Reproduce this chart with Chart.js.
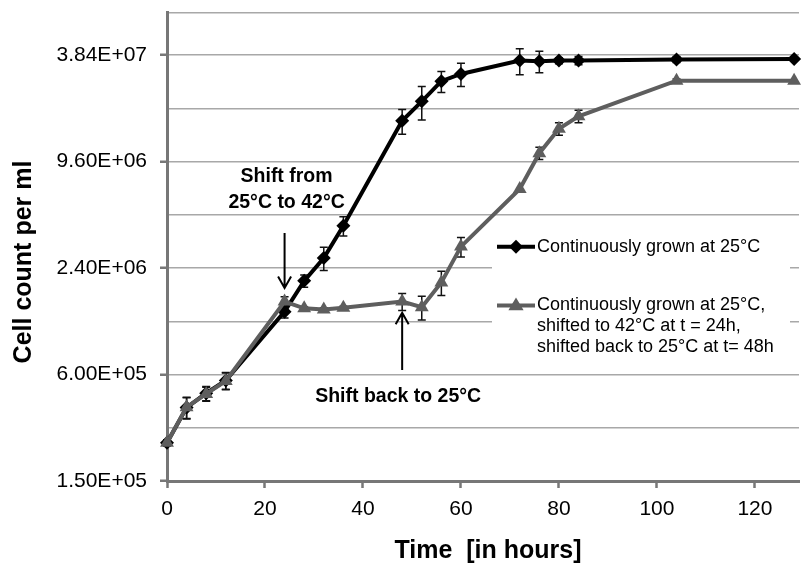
<!DOCTYPE html>
<html><head><meta charset="utf-8">
<script src="https://cdn.jsdelivr.net/npm/chart.js@4.4.1/dist/chart.umd.min.js"></script>
<style>html,body{margin:0;padding:0;background:#fff;overflow:hidden}#wrap{width:807px;height:566px;position:relative}</style>
</head><body><div id="wrap"><canvas id="c" width="807" height="566"></canvas></div>
<script>
// ---- data ----
const hours = [0, 4, 8, 12, 24, 28, 32, 36, 48, 52, 56, 60, 72, 76, 80, 84, 104, 128];
const continuous25 = [2.47e5, 3.9e5, 4.7e5, 5.55e5, 1.36e6, 2.03e6, 2.73e6, 4.16e6, 1.63e7, 2.1e7, 2.73e7, 3.0e7, 3.57e7, 3.54e7, 3.57e7, 3.57e7, 3.62e7, 3.65e7];
const continuous25Err = [1.0e4, 5.4e4, 4.3e4, 6.0e4, 1.1e5, 1.6e5, 4.1e5, 5.2e5, 2.6e6, 4.5e6, 3.7e6, 4.5e6, 6.0e6, 4.9e6, 1.4e6, 1.9e6, 1.4e6, 0];
const shifted = [2.47e5, 3.92e5, 4.66e5, 5.52e5, 1.55e6, 1.42e6, 1.40e6, 1.43e6, 1.55e6, 1.44e6, 1.99e6, 3.17e6, 6.71e6, 1.07e7, 1.47e7, 1.73e7, 2.75e7, 2.75e7];
const shiftedErr = [1.0e4, 5.4e4, 4.3e4, 6.0e4, 1.0e5, 3.0e4, 3.0e4, 3.0e4, 1.7e5, 2.2e5, 3.1e5, 4.0e5, 0, 8.5e5, 1.2e6, 1.4e6, 6.0e5, 0];
const seriesLabels = [
  ['Continuously grown at 25°C'],
  ['Continuously grown at 25°C,', 'shifted to 42°C at t = 24h,', 'shifted back to 25°C at t= 48h']
];
const yMajorTicks = [1.5e5, 6.0e5, 2.4e6, 9.6e6, 3.84e7];
const yTickLabels = ['1.50E+05', '6.00E+05', '2.40E+06', '9.60E+06', '3.84E+07'];
const yGridValues = [1.5e5, 3.0e5, 6.0e5, 1.2e6, 2.4e6, 4.8e6, 9.6e6, 1.92e7, 3.84e7];
const yMin = 1.5e5, yMax = 6.66e7;
const xTicks = [0, 20, 40, 60, 80, 100, 120];
const xMin = 0, xMax = 129;
const xTitle = 'Time  [in hours]';
const yTitle = 'Cell count per ml';
const shiftUpLabel = ['Shift from', '25°C to 42°C'];
const shiftBackLabel = 'Shift back to 25°C';
const shiftTimes = [24, 48];
const shiftDownArrow = [3.78e6, 1.85e6];
const shiftUpArrow = [6.37e5, 1.34e6];

const FONT = '"Liberation Sans", Arial, Helvetica, sans-serif';
const BLACK = '#000000', GRAY = '#5e5e5e', AXIS = '#777777', GRID = '#a8a8a8';

const errors = [continuous25Err, shiftedErr];

const errorBarPlugin = {
  id: 'errbars',
  beforeDatasetsDraw(chart) {
    const xs = chart.scales.x, ys = chart.scales.y, ctx = chart.ctx;
    ctx.save();
    chart.data.datasets.forEach((ds, di) => {
      const err = errors[di];
      ctx.strokeStyle = '#111';
      ctx.lineWidth = 1.5;
      ds.data.forEach((p, i) => {
        const e = err[i];
        if (!e) return;
        const x = xs.getPixelForValue(p.x);
        const yt = ys.getPixelForValue(p.y + e);
        const yb = ys.getPixelForValue(p.y - e);
        ctx.beginPath();
        ctx.moveTo(x, yt); ctx.lineTo(x, yb);
        ctx.moveTo(x - 4, yt); ctx.lineTo(x + 4, yt);
        ctx.moveTo(x - 4, yb); ctx.lineTo(x + 4, yb);
        ctx.stroke();
      });
    });
    ctx.restore();
  }
};

function arrow(ctx, x, y0, y1) {
  ctx.beginPath();
  ctx.moveTo(x, y0); ctx.lineTo(x, y1);
  const d = y1 > y0 ? -1 : 1;
  ctx.moveTo(x - 6.5, y1 + d * 11.5); ctx.lineTo(x, y1); ctx.lineTo(x + 6.5, y1 + d * 11.5);
  ctx.stroke();
}

const decorPlugin = {
  id: 'decor',
  afterDatasetsDraw(chart) {
    const xs = chart.scales.x, ys = chart.scales.y, ctx = chart.ctx;
    ctx.save();
    // annotations
    ctx.strokeStyle = '#000'; ctx.lineWidth = 2; ctx.lineCap = 'butt';
    const ax1 = xs.getPixelForValue(shiftTimes[0]);
    const a1t = ys.getPixelForValue(shiftDownArrow[0]), a1b = ys.getPixelForValue(shiftDownArrow[1]);
    arrow(ctx, ax1, a1t, a1b);
    const ax2 = xs.getPixelForValue(shiftTimes[1]);
    const a2b = ys.getPixelForValue(shiftUpArrow[0]), a2t = ys.getPixelForValue(shiftUpArrow[1]);
    arrow(ctx, ax2, a2b, a2t);
    ctx.fillStyle = '#000';
    ctx.font = 'bold 19.5px ' + FONT;
    ctx.textAlign = 'center'; ctx.textBaseline = 'middle';
    ctx.fillText(shiftUpLabel[0], ax1 + 2, a1t - 56);
    ctx.fillText(shiftUpLabel[1], ax1 + 2, a1t - 30);
    ctx.fillText(shiftBackLabel, ax2 - 4, a2b + 27);

    // legend
    ctx.fillStyle = '#fff';
    ctx.fillRect(492, 229, 298, 138);
    ctx.font = '18px ' + FONT;
    ctx.textAlign = 'left'; ctx.textBaseline = 'middle';
    const rows = [246.7, 305.5];
    chart.data.datasets.forEach((ds, di) => {
      const y = rows[di];
      ctx.strokeStyle = ds.borderColor; ctx.lineWidth = 4;
      ctx.beginPath(); ctx.moveTo(497, y); ctx.lineTo(535, y); ctx.stroke();
      ctx.fillStyle = ds.borderColor;
      const r = ds.pointRadius;
      ctx.beginPath();
      if (ds.pointStyle === 'rectRot') {
        ctx.moveTo(516, y - r); ctx.lineTo(516 + r, y); ctx.lineTo(516, y + r); ctx.lineTo(516 - r, y);
      } else {
        ctx.moveTo(516, y - r); ctx.lineTo(516 + r * 0.95, y + r * 0.6); ctx.lineTo(516 - r * 0.95, y + r * 0.6);
      }
      ctx.closePath(); ctx.fill();
      ctx.fillStyle = '#000';
      seriesLabels[di].forEach((t, li) => ctx.fillText(t, 537, y + li * 21));
    });
    ctx.restore();
  },
  afterDraw(chart) {
    const ctx = chart.ctx;
    ctx.save();
    ctx.fillStyle = '#000';
    ctx.font = 'bold 25px ' + FONT;
    ctx.textAlign = 'center'; ctx.textBaseline = 'middle';
    ctx.fillText(xTitle, 488, 551);
    ctx.translate(24, 262);
    ctx.rotate(-Math.PI / 2);
    ctx.fillText(yTitle, 0, 0);
    ctx.restore();
  }
};

const toPts = (vals) => hours.map((h, i) => ({ x: h, y: vals[i] }));

new Chart(document.getElementById('c'), {
  type: 'line',
  data: {
    datasets: [
      { label: seriesLabels[0].join(' '), data: toPts(continuous25), borderColor: BLACK, backgroundColor: BLACK,
        borderWidth: 4, pointStyle: 'rectRot', pointRadius: 7, pointBorderWidth: 0, pointBackgroundColor: BLACK,
        order: 1, clip: false, tension: 0 },
      { label: seriesLabels[1].join(' '), data: toPts(shifted), borderColor: GRAY, backgroundColor: GRAY,
        borderWidth: 4, pointStyle: 'triangle', pointRadius: 8, pointBorderWidth: 0, pointBackgroundColor: GRAY,
        order: 0, clip: false, tension: 0 }
    ]
  },
  options: {
    responsive: false, animation: false, devicePixelRatio: 1,
    layout: { padding: { top: 0, right: 0, left: 0, bottom: 0 } },
    plugins: { legend: { display: false }, tooltip: { enabled: false } },
    scales: {
      x: {
        type: 'linear', min: xMin, max: xMax,
        afterBuildTicks: (s) => { s.ticks = xTicks.map(v => ({ value: v })); },
        afterFit: (s) => { s.height = 85; s.paddingRight = 0; },
        grid: { display: true, drawOnChartArea: false, drawTicks: true, tickLength: 7, tickColor: AXIS, tickWidth: 2.5 },
        border: { display: true, color: AXIS, width: 3 },
        ticks: { color: '#000', font: { size: 21, family: FONT }, padding: 9, autoSkip: false, maxRotation: 0 }
      },
      y: {
        type: 'logarithmic', min: yMin, max: yMax,
        afterBuildTicks: (s) => { s.ticks = yGridValues.concat([yMax]).map(v => ({ value: v })); },
        afterFit: (s) => { s.width = 167; s.paddingTop = 12.7; s.paddingBottom = 0; },
        grid: { display: true, color: GRID, lineWidth: 1.5, drawTicks: true, tickLength: 7, tickWidth: 2.5,
          tickColor: (c) => (c.tick && yMajorTicks.includes(c.tick.value)) ? AXIS : 'rgba(0,0,0,0)' },
        border: { display: true, color: AXIS, width: 3 },
        ticks: { color: '#000', font: { size: 21, family: FONT }, padding: 13, autoSkip: false,
          callback: (v) => { const k = yMajorTicks.indexOf(v); return k >= 0 ? yTickLabels[k] : ''; } }
      }
    }
  },
  plugins: [errorBarPlugin, decorPlugin]
});
</script></body></html>
